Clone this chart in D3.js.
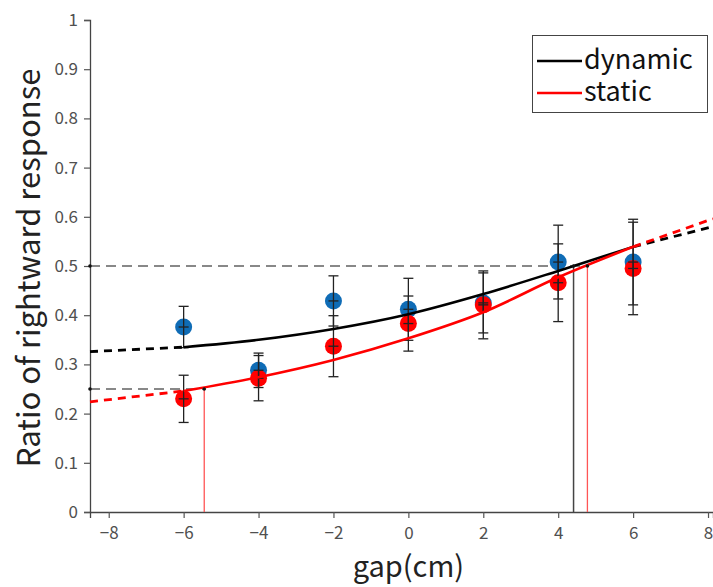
<!DOCTYPE html>
<html>
  <head>
    <meta charset="utf-8">
    <script src="https://d3js.org/d3.v7.min.js"></script>
    <style>
      body { margin: 0; background: #fff; }
      text { font-family: "Noto Sans CJK JP", "Noto Sans", sans-serif; }
    </style>
  </head>
<body>
  <script type="text/javascript">
    "use strict";

    // measured points
    var gaps = [-6, -4, -2, 0, 2, 4, 6];
    var dynamicRatio = [0.376, 0.288, 0.429, 0.412, 0.425, 0.508, 0.508];
    var dynamicErr   = [0.042, 0.035, 0.051, 0.063, 0.061, 0.075, 0.087];
    var staticRatio  = [0.230, 0.272, 0.337, 0.383, 0.421, 0.466, 0.495];
    var staticErr    = [0.048, 0.046, 0.062, 0.056, 0.069, 0.079, 0.094];

    // fitted curves
    var fitGaps       = [-8.5, -6, -4, -2, 0, 2, 4, 6, 8.13];
    var dynamicFit    = [0.326, 0.335, 0.350, 0.372, 0.402, 0.443, 0.490, 0.539, 0.580];
    var staticFit     = [0.224, 0.246, 0.274, 0.309, 0.353, 0.406, 0.477, 0.539, 0.596];

    // thresholds
    var thresholdLevels = [0.5, 0.25];
    var thresholdDynamic = [4.41];
    var thresholdStatic = [4.78, -5.45];

    var seriesNames = ["dynamic", "static"];
    var xTicks = [-8, -6, -4, -2, 0, 2, 4, 6, 8];
    var yTicks = [0, 0.1, 0.2, 0.3, 0.4, 0.5, 0.6, 0.7, 0.8, 0.9, 1];

    var width = 713, height = 587;
    var mLeft = 90, mRight = 713, mTop = 20, mBottom = 512;

    var svg = d3.select("body").append("svg")
      .attr("width", width)
      .attr("height", height);

    var x = d3.scaleLinear().domain([-8.5, 8.133]).range([mLeft, mRight]);
    var y = d3.scaleLinear().domain([0, 1]).range([mBottom, mTop]);

    // axes
    var yAxis = svg.append("g")
      .attr("transform", "translate(" + mLeft + ",0)")
      .call(d3.axisLeft(y).tickValues(yTicks).tickSize(6).tickPadding(6)
        .tickFormat(d3.format("~g")));
    var xAxis = svg.append("g")
      .attr("transform", "translate(0," + mBottom + ")")
      .call(d3.axisBottom(x).tickValues(xTicks).tickSize(6).tickPadding(9));
    [xAxis, yAxis].forEach(function(g) {
      g.select(".domain").attr("stroke", "#444").attr("stroke-width", 1.3);
      g.selectAll(".tick line").attr("stroke", "#555").attr("stroke-width", 1.2);
      g.selectAll(".tick text").attr("fill", "#505050").attr("font-size", 17)
        .attr("font-family", "'Noto Sans CJK JP', sans-serif");
    });

    // axis titles
    svg.append("text")
      .attr("transform", "translate(40," + ((mTop + mBottom) / 2 + 2) + ") rotate(-90)")
      .attr("text-anchor", "middle")
      .attr("font-size", 31)
      .attr("fill", "#222")
      .text("Ratio of rightward response");
    svg.append("text")
      .attr("x", x(0))
      .attr("y", 577)
      .attr("text-anchor", "middle")
      .attr("font-size", 29)
      .attr("fill", "#222")
      .text("gap(cm)");

    // threshold reference lines
    var refG = svg.append("g");
    refG.append("line")
      .attr("x1", x(-8.5)).attr("x2", x(thresholdStatic[0]))
      .attr("y1", y(thresholdLevels[0])).attr("y2", y(thresholdLevels[0]))
      .attr("stroke", "#888").attr("stroke-width", 2).attr("stroke-dasharray", "10,6");
    refG.append("line")
      .attr("x1", x(-8.5)).attr("x2", x(thresholdStatic[1]))
      .attr("y1", y(thresholdLevels[1])).attr("y2", y(thresholdLevels[1]))
      .attr("stroke", "#888").attr("stroke-width", 2).attr("stroke-dasharray", "10,6");
    refG.append("line")
      .attr("x1", x(thresholdDynamic[0])).attr("x2", x(thresholdDynamic[0]))
      .attr("y1", y(thresholdLevels[0])).attr("y2", y(0))
      .attr("stroke", "#444").attr("stroke-width", 1.5);
    refG.append("line")
      .attr("x1", x(thresholdStatic[0])).attr("x2", x(thresholdStatic[0]))
      .attr("y1", y(thresholdLevels[0])).attr("y2", y(0))
      .attr("stroke", "#ff5555").attr("stroke-width", 1.3);
    refG.append("line")
      .attr("x1", x(thresholdStatic[1])).attr("x2", x(thresholdStatic[1]))
      .attr("y1", y(thresholdLevels[1])).attr("y2", y(0))
      .attr("stroke", "#ff5555").attr("stroke-width", 1.3);

    // points
    var series = [
      { name: "dynamic", vals: dynamicRatio, err: dynamicErr, fill: "#0f6cb6", fit: dynamicFit, line: "#000" },
      { name: "static",  vals: staticRatio,  err: staticErr,  fill: "#ff0000", fit: staticFit,  line: "#ff0000" }
    ];

    series.forEach(function(s) {
      svg.append("g").selectAll("circle")
        .data(gaps)
        .enter().append("circle")
          .attr("cx", function(d) { return x(d); })
          .attr("cy", function(d, i) { return y(s.vals[i]); })
          .attr("r", 8.5)
          .attr("fill", s.fill);
    });

    // error bars
    series.forEach(function(s) {
      var eg = svg.append("g").attr("stroke", "#222").attr("stroke-width", 1.3);
      gaps.forEach(function(g, i) {
        var cx = x(g), lo = y(s.vals[i] - s.err[i]), hi = y(s.vals[i] + s.err[i]);
        eg.append("line").attr("x1", cx).attr("x2", cx).attr("y1", lo).attr("y2", hi);
        eg.append("line").attr("x1", cx - 5).attr("x2", cx + 5).attr("y1", lo).attr("y2", lo);
        eg.append("line").attr("x1", cx - 5).attr("x2", cx + 5).attr("y1", hi).attr("y2", hi);
        eg.append("line").attr("x1", cx - 5).attr("x2", cx + 5)
          .attr("y1", y(s.vals[i])).attr("y2", y(s.vals[i]));
      });
    });

    // fitted curves: solid inside the tested range, dashed outside
    var line = d3.line()
      .x(function(d) { return x(d[0]); })
      .y(function(d) { return y(d[1]); })
      .curve(d3.curveMonotoneX);

    series.forEach(function(s) {
      var pts = fitGaps.map(function(g, i) { return [g, s.fit[i]]; });
      var inner = pts.filter(function(p) { return p[0] >= -6 && p[0] <= 6; });
      var lowPart = pts.filter(function(p) { return p[0] <= -6; });
      var highPart = pts.filter(function(p) { return p[0] >= 6; });
      svg.append("path").datum(inner)
        .attr("d", line)
        .attr("fill", "none").attr("stroke", s.line).attr("stroke-width", 2.6);
      [lowPart, highPart].forEach(function(part) {
        svg.append("path").datum(part)
          .attr("d", line)
          .attr("fill", "none").attr("stroke", s.line).attr("stroke-width", 2.8)
          .attr("stroke-dasharray", "8,6");
      });
    });

    // small end markers on reference lines
    var dots = [
      [-8.5, thresholdLevels[0]], [-8.5, thresholdLevels[1]],
      [thresholdDynamic[0], thresholdLevels[0]], [thresholdStatic[0], thresholdLevels[0]],
      [thresholdStatic[1], thresholdLevels[1]]
    ];
    svg.append("g").selectAll("circle")
      .data(dots)
      .enter().append("circle")
        .attr("cx", function(d) { return x(d[0]); })
        .attr("cy", function(d) { return y(d[1]); })
        .attr("r", 1.8)
        .attr("fill", "#111");

    // legend
    var legend = svg.append("g");
    legend.append("rect")
      .attr("x", 532.5).attr("y", 35.5)
      .attr("width", 175).attr("height", 77)
      .attr("fill", "#fff").attr("stroke", "#444").attr("stroke-width", 1);
    var items = legend.selectAll("g.item")
      .data(seriesNames)
      .enter().append("g")
        .attr("class", "item")
        .attr("transform", function(d, i) { return "translate(537," + (61 + i * 32) + ")"; });
    items.append("line")
      .attr("x1", 0).attr("x2", 45)
      .attr("stroke", function(d, i) { return series[i].line; })
      .attr("stroke-width", 2.6);
    items.append("text")
      .attr("x", 47).attr("y", 8)
      .attr("font-size", 27)
      .attr("fill", "#111")
      .text(function(d) { return d; });
  </script>
</body>
</html>
